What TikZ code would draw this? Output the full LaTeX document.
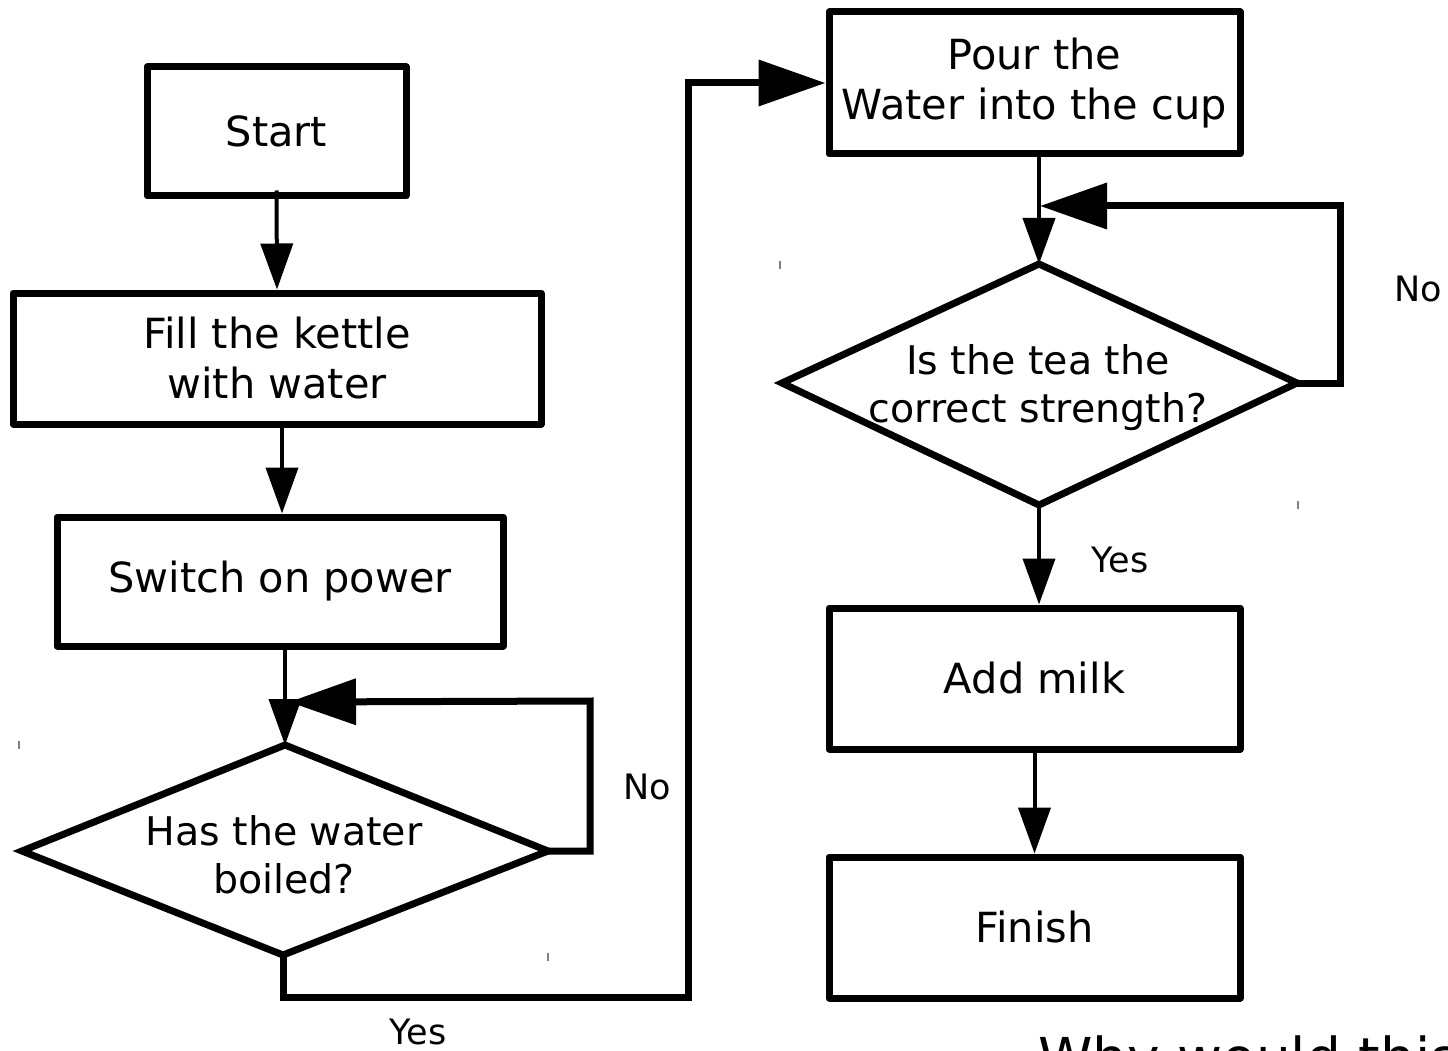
\documentclass[tikz,border=0pt]{standalone}
\usepackage{fontspec}
\setmainfont{DejaVu Sans}
\usetikzlibrary{arrows.meta}
\begin{document}
\begin{tikzpicture}[x=1pt,y=-1pt,
  box/.style={draw,line width=7pt,line join=round,inner sep=0pt,align=center,font=\fontsize{41.5}{50}\selectfont},
  dtext/.style={inner sep=0pt,align=center,font=\fontsize{39.5}{48}\selectfont},
  lbl/.style={inner sep=0pt,font=\fontsize{35}{42}\selectfont},
  dshape/.style={line width=7pt,line join=miter},
  cline/.style={line width=4pt},
  tline/.style={line width=7pt,line join=miter},
  sarrow/.style={-{Triangle[length=46pt,width=32pt]}},
  barrow/.style={-{Triangle[length=67pt,width=45pt]}},
  tick/.style={line width=1.5pt,draw=gray}
]
\useasboundingbox (0,0) rectangle (1448,1051);
\clip (0,0) rectangle (1448,1051);

% boxes
\node[box,minimum width=259pt,minimum height=129pt] (start) at (276.5,131.5) {Start};
\node[box,minimum width=528pt,minimum height=131pt] (fill) at (277,358.5) {Fill the kettle\\with water};
\node[box,minimum width=446pt,minimum height=129pt] (switch) at (280,581.5) {Switch on power};
\node[box,minimum width=411pt,minimum height=142pt] (pour) at (1034.5,83) {Pour the\\Water into the cup};
\node[box,minimum width=411pt,minimum height=141pt] (milk) at (1034.5,678.5) {Add milk};
\node[box,minimum width=411pt,minimum height=141pt] (finish) at (1034.5,927.5) {Finish};

% diamond 1
\coordinate (d1t) at (285,745);
\coordinate (d1r) at (548,851);
\coordinate (d1b) at (283,955);
\coordinate (d1l) at (22,851);
\draw[dshape] (d1t) -- (d1r) -- (d1b) -- (d1l) -- cycle;
\node[dtext] (d1) at (284,855) {Has the water\\boiled?};

% diamond 2
\coordinate (d2t) at (1039,264);
\coordinate (d2r) at (1297,383);
\coordinate (d2b) at (1039,505);
\coordinate (d2l) at (782,383);
\draw[dshape] (d2t) -- (d2r) -- (d2b) -- (d2l) -- cycle;
\node[dtext] (d2) at (1038,388) {Is the tea the\\correct strength?};

% loop end points
\coordinate (l1end) at (289,702);
\coordinate (l2end) at (1040,206);

% connectors
\draw[cline,sarrow] ([yshift=9pt]start.south) -- (fill.north);
\draw[cline,sarrow] ([xshift=5pt]fill.south) -- ([xshift=2pt]switch.north);
\draw[cline,sarrow] (d1t |- switch.south) -- (d1t);
\draw[tline,barrow] (d1r) -- (590,851) -- (590,701) -- (l1end);
\draw[tline,barrow] (d1b) -- (283,997) -- (688,997) -- (688,83) -- (pour.west);
\draw[cline,sarrow] (d2t |- pour.south) -- (d2t);
\draw[tline,barrow] (d2r) -- (1340,383) -- (1340,206) -- (l2end);
\draw[cline,sarrow] (d2b) -- (d2b |- milk.north);
\draw[cline,sarrow] (milk.south) -- (finish.north);

% labels
\node[lbl] (yes1) at (418,1032) {Yes};
\node[lbl] (no1) at (647,787) {No};
\node[lbl] (no2) at (1418,289) {No};
\node[lbl] (yes2) at (1120,560) {Yes};
\node[inner sep=0pt,anchor=base west,font=\fontsize{55}{66}\selectfont] (why) at (1038,1077) {Why would this};

% small stray marks
\draw[tick] (19,741) -- (19,749);
\draw[tick] (548,953) -- (548,961);
\draw[tick] (780,261) -- (780,269);
\draw[tick] (1298,501) -- (1298,509);
\end{tikzpicture}
\end{document}
